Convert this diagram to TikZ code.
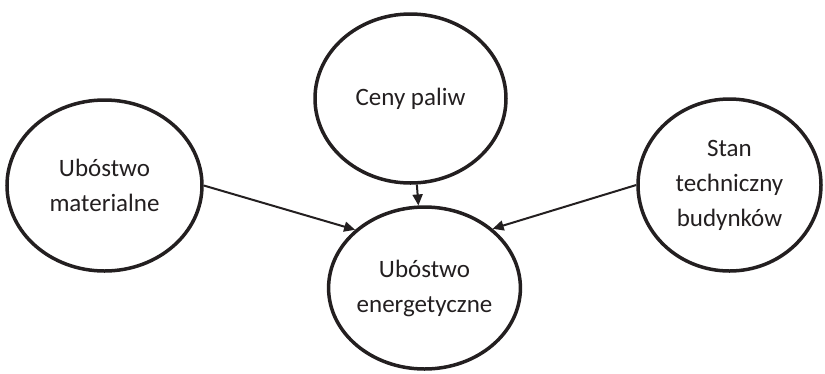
\documentclass[tikz,border=0pt]{standalone}
\usepackage{fontspec}
\setmainfont{Carlito}
\usetikzlibrary{shapes.geometric,arrows.meta}
\definecolor{txt}{HTML}{231F20}
\tikzset{
  bubble/.style={ellipse, draw=txt, line width=3.5pt, inner sep=0pt, align=center,
    font=\fontsize{25}{35}\selectfont, text=txt},
  link/.style={draw=txt, line width=2pt, -{Triangle[length=11pt,width=10pt]}}
}
\begin{document}
\begin{tikzpicture}[x=1pt,y=-1pt]
\useasboundingbox (0,0) rectangle (825,373);
\node[bubble, minimum width=195pt, minimum height=171pt] (mat) at (104.5,185.5) {Ubóstwo\\materialne};
\node[bubble, minimum width=191pt, minimum height=169pt] (cen) at (410.5,98.5) {Ceny paliw};
\node[bubble, minimum width=183pt, minimum height=172pt] (stan) at (729.5,185) {Stan\\techniczny\\budynków};
\node[bubble, minimum width=181pt, minimum height=162pt] (ene) at (424.5,288) {Ubóstwo\\energetyczne};
\draw[link] (cen) -- (ene);
\draw[link] (mat.east) -- (ene.140);
\draw[link] (stan.west) -- (ene.41);
\end{tikzpicture}
\end{document}
